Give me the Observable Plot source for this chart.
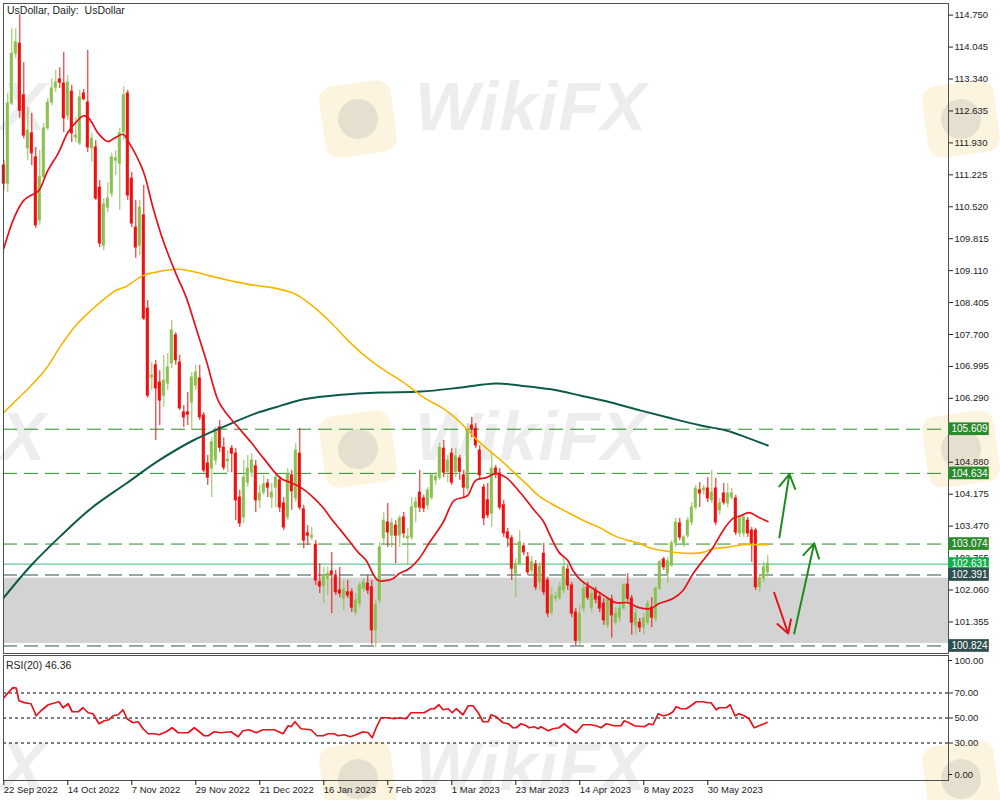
<!DOCTYPE html>
<html><head><meta charset="utf-8">
<script src="https://cdn.jsdelivr.net/npm/d3@7"></script>
<script src="https://cdn.jsdelivr.net/npm/@observablehq/plot@0.6"></script>
<style>
body{margin:0;background:#fff;font-family:"Liberation Sans",Arial,sans-serif;}
#wrap{position:relative;width:1000px;height:800px;overflow:hidden;background:#fff;}
#wrap svg{position:relative;display:block;}
.wm-t{position:absolute;font:italic bold 68px "Liberation Sans",Arial,sans-serif;color:rgba(200,200,200,0.32);letter-spacing:1px;white-space:nowrap;}
.wm-l{position:absolute;width:72px;height:72px;border-radius:14px;background:rgba(243,214,140,0.28);transform:rotate(-8deg);}
.wm-l::after{content:"";position:absolute;left:16px;top:16px;width:40px;height:40px;border-radius:50%;background:rgba(150,150,150,0.22);}
.lbl{position:absolute;font-size:10.5px;color:#222;white-space:pre;}
</style></head><body><div id="wrap"></div>
<script>
// ---- candle data (bar index 0 = 22 Sep 2022) ----
const opens=[111.43,111.03,112.80,113.90,114.12,112.98,111.81,112.14,111.61,110.22,111.17,112.25,112.82,113.15,113.33,113.24,112.53,113.06,112.05,111.92,113.02,112.82,111.81,111.83,110.94,109.66,110.50,110.81,111.54,111.47,112.16,113.02,111.14,110.06,109.66,110.33,108.27,106.75,107.02,106.64,106.35,106.62,107.06,107.68,107.08,105.98,105.98,106.20,106.57,106.73,105.91,104.85,104.74,104.92,105.65,105.20,104.90,105.18,105.07,104.10,103.66,104.43,104.65,104.79,104.04,104.21,104.41,104.10,104.32,104.48,103.97,103.66,104.59,104.08,105.07,103.84,103.31,103.22,103.06,102.23,102.14,102.31,102.47,102.38,102.05,101.87,102.01,102.01,101.56,101.76,102.09,102.20,102.12,101.17,101.83,103.20,103.55,103.26,103.48,103.26,103.66,103.20,103.22,103.88,104.21,104.08,103.93,104.10,104.48,104.54,105.18,104.67,105.07,104.67,104.96,104.59,104.30,105.69,105.62,105.14,104.32,104.04,103.75,104.74,104.63,103.93,103.33,103.20,102.42,102.64,103.02,102.78,102.49,102.62,102.23,102.86,102.27,101.56,101.87,101.89,102.05,102.51,102.16,101.56,100.94,101.65,102.12,101.67,102.05,101.91,101.76,101.28,101.85,101.34,101.45,101.65,102.18,101.87,101.28,101.34,101.23,101.34,101.67,101.43,102.09,102.73,102.42,102.60,103.09,103.53,103.09,103.26,103.55,103.88,104.26,104.26,104.30,104.04,104.30,103.82,104.19,103.97,104.10,104.08,103.31,103.31,103.59,103.37,103.37,102.12,102.31,102.45];
const highs=[111.54,113.02,114.45,114.45,114.76,113.70,112.71,112.58,111.83,111.76,112.36,112.91,113.35,113.53,113.59,113.93,113.42,113.20,112.49,113.09,113.11,113.97,112.14,111.98,111.10,110.70,111.05,111.70,111.76,112.25,113.17,113.09,111.28,110.66,110.66,110.99,108.45,107.08,107.13,106.90,107.24,107.28,108.01,107.74,107.24,106.13,106.42,106.86,107.02,107.02,105.98,105.03,105.42,105.65,105.80,105.42,105.14,105.25,105.18,104.26,104.92,105.03,105.07,104.92,104.37,104.59,104.50,104.41,104.65,104.56,104.10,104.74,104.70,105.29,105.62,103.93,103.48,103.44,103.15,102.64,102.56,102.56,102.89,102.49,102.56,102.27,102.27,102.09,101.98,102.23,102.31,102.38,102.27,101.83,103.11,103.77,103.97,103.64,103.59,103.70,103.77,103.42,104.10,104.10,104.70,104.15,104.32,104.63,104.65,105.31,105.36,105.03,105.18,105.18,105.03,104.70,105.73,105.87,105.73,105.25,104.39,104.41,105.07,104.81,104.74,104.04,103.42,103.26,102.75,103.37,103.09,102.89,102.80,102.71,102.67,103.09,102.34,102.12,102.01,102.23,102.78,102.60,102.23,101.65,101.72,102.23,102.23,102.09,102.12,102.01,101.87,101.89,101.94,101.67,101.76,102.20,102.42,101.94,101.65,101.43,101.54,101.83,101.89,102.12,102.71,102.78,102.78,103.15,103.64,103.64,103.26,103.66,103.99,104.37,104.43,104.37,104.54,104.70,104.52,104.08,104.41,104.41,104.30,104.15,103.71,103.71,103.66,103.44,103.42,102.38,102.67,102.82];
const lows=[110.88,110.83,112.75,113.79,112.47,112.02,111.54,111.43,110.04,110.11,111.10,112.20,112.75,113.04,113.13,112.16,112.42,111.94,111.94,111.87,112.87,111.72,111.50,110.66,109.62,109.55,110.39,110.72,111.21,110.44,111.98,110.66,110.06,109.38,109.44,108.01,106.29,106.46,105.36,105.69,106.09,106.46,106.95,107.02,106.02,105.65,105.69,105.58,106.46,105.80,104.65,104.37,104.10,104.81,105.10,104.70,104.65,104.65,103.59,103.44,103.53,104.32,104.54,103.77,103.86,104.15,104.10,103.86,103.88,103.77,103.37,103.59,103.82,103.99,103.82,102.97,103.04,103.15,102.16,101.98,101.76,101.94,101.54,101.94,101.89,101.61,101.87,101.56,101.50,101.67,102.01,101.96,100.85,100.79,101.76,103.04,103.00,103.00,102.64,103.00,103.20,102.60,103.15,103.55,103.77,103.77,103.82,104.04,104.37,104.48,104.54,104.43,104.37,104.54,104.48,104.10,104.21,105.42,105.18,104.52,103.48,103.64,103.44,104.52,103.82,103.22,103.00,102.27,101.89,102.60,102.82,102.38,102.38,102.05,102.05,101.94,101.45,101.50,101.80,101.83,101.98,102.05,101.45,100.83,100.79,101.56,101.83,101.56,101.76,101.56,101.28,101.21,101.00,101.28,101.34,101.61,101.80,101.06,101.06,101.12,101.06,101.28,101.23,101.34,102.05,102.49,102.20,102.56,103.00,103.15,103.00,103.20,103.48,103.82,103.88,104.15,103.99,103.97,103.48,103.71,103.93,103.88,104.04,103.26,103.22,103.22,103.22,102.67,102.05,102.01,102.23,102.34];
const closes=[111.03,112.80,113.90,114.15,112.64,112.09,112.20,111.70,110.11,111.17,112.25,112.82,113.13,113.26,113.26,112.47,113.26,112.14,112.09,112.93,112.89,111.83,112.02,110.70,109.71,110.57,110.70,111.61,111.59,112.14,112.98,110.77,110.15,109.62,110.50,108.05,106.35,106.79,106.51,106.24,106.68,106.97,107.79,107.13,106.07,105.87,105.93,106.75,106.86,105.87,104.70,104.54,105.32,105.54,105.20,104.76,104.94,105.07,104.04,103.53,104.54,104.74,104.92,104.04,104.19,104.39,104.32,104.21,104.54,103.88,103.44,104.61,104.24,105.14,103.88,103.15,103.26,103.26,102.27,102.14,102.36,102.42,102.40,102.01,101.98,102.07,101.94,101.67,101.83,102.16,102.23,102.05,101.17,101.72,103.00,103.59,103.33,103.53,103.26,103.64,103.31,103.24,103.88,103.99,103.88,103.86,104.26,104.59,104.56,105.20,104.65,104.92,104.43,105.01,104.67,104.32,105.58,105.62,105.25,104.59,103.64,103.71,104.74,104.63,103.88,103.31,103.20,102.53,102.64,103.11,102.89,102.45,102.67,102.12,102.58,102.01,101.54,101.94,101.91,102.12,102.56,102.16,101.54,100.94,101.54,102.09,101.89,101.96,101.85,101.65,101.39,101.85,101.50,101.54,101.65,102.16,101.87,101.34,101.54,101.23,101.43,101.76,101.45,102.09,102.67,102.56,102.69,103.09,103.55,103.22,103.22,103.59,103.88,104.30,104.19,104.30,104.08,104.21,103.55,103.97,103.99,104.19,104.19,103.33,103.64,103.66,103.31,103.09,102.12,102.31,102.56,102.64];

// ---- moving averages (bar index, value) ----
const redMaIdx=[0,2.6,5,7.6,8.8,11,13.6,16,18,20,21.3,23.6,26,27.6,29.8,31,34.8,37.3,39.8,43,45.6,48,50.6,53.6,55.6,58.8,61.8,65,69.3,71.8,74.3,76.8,79.8,81.8,84.3,86.8,88.6,90.6,92.3,93.6,97.3,98.8,101.3,103.8,106.3,109.8,112.6,114.8,116,118,120.6,123,125.6,129.3,132.6,134.8,136.8,138.8,141,142.3,144.3,146.8,150,153,156,158.8,161.8,163.8,167.3,169.8,172.3,174.8,177.3,179.8,182.3,184.3,186.3,188.8,191];
const redMaVal=[109.60,110.28,110.66,110.81,110.88,111.32,111.70,112.16,112.38,112.53,112.47,112.14,111.96,112.03,112.12,111.98,111.32,110.50,109.78,109.05,108.52,107.86,107.13,106.24,105.96,105.63,105.32,104.96,104.52,104.43,104.32,104.15,103.88,103.64,103.37,103.09,102.89,102.71,102.42,102.27,102.31,102.42,102.53,102.75,103.09,103.55,104.04,104.10,104.15,104.48,104.54,104.63,104.54,104.19,103.82,103.59,103.22,102.89,102.71,102.49,102.27,102.12,101.94,101.78,101.78,101.67,101.65,101.76,101.87,102.05,102.42,102.71,103.00,103.37,103.64,103.70,103.77,103.66,103.57];
const yellowMaIdx=[0,3,6.8,10.6,14.3,18,21.8,25.6,28,30.6,34.8,38.8,43.8,47.3,51.3,55.6,58.8,63,66.8,71.8,74.3,78,81.8,85.6,89.3,93,96.8,100.6,104.3,106.3,109.8,113,115.6,118,121.3,124.3,127.6,131,133.6,136.8,141,145,149.3,152.6,156.3,158.8,162.3,166.3,170.6,174.8,177.3,180.6,184.8,188.8,191];
const yellowMaVal=[105.98,106.24,106.57,106.95,107.46,107.90,108.23,108.52,108.67,108.76,109.00,109.09,109.14,109.09,109.00,108.91,108.85,108.78,108.74,108.63,108.52,108.27,107.96,107.61,107.30,107.04,106.82,106.60,106.35,106.24,106.07,105.85,105.63,105.40,105.14,104.92,104.65,104.37,104.15,103.97,103.77,103.59,103.42,103.26,103.15,103.09,102.97,102.91,102.87,102.89,102.97,103.00,103.06,103.06,103.06];
const tealMaIdx=[0,6.8,14.3,21.8,30.6,38.8,47.3,55.6,63,69.3,75,84.3,94.3,104.3,114.3,123,129.3,136.8,144.3,151.8,159.3,166.8,174.3,180.6,185.6,191];
const tealMaVal=[101.89,102.60,103.26,103.86,104.41,104.92,105.36,105.69,105.96,106.13,106.27,106.37,106.42,106.44,106.53,106.62,106.57,106.49,106.35,106.20,106.02,105.85,105.69,105.58,105.43,105.25];

// ---- RSI(20) ----
const rsiIdx=[0,1.1,2.3,3.1,3.8,5.1,6.8,8.1,9.3,11.1,13.8,14.8,16.1,17.1,18.6,19.8,21.1,22.3,23.8,25.1,26.3,27.3,28.6,29.8,30.8,32.3,33.6,34.8,36.1,37.6,38.8,40.6,42.1,43.6,46.1,47.6,48.6,50.1,51.1,52.6,54.3,56.8,58.6,59.8,61.3,63.1,64.8,67.6,69.8,71.1,71.8,72.8,74.3,76.8,78.3,79.8,81.1,82.6,83.6,85.1,86.6,88.1,89.8,91.1,92.1,93.1,94.3,96.1,97.6,98.8,100.6,101.8,105.1,106.8,107.6,108.8,109.8,111.1,112.1,113.1,114.8,116.1,117.3,118.6,119.8,121.1,121.8,123.1,124.8,126.1,127.3,128.1,129.3,130.6,131.3,132.6,133.6,134.3,136.1,137.3,138.8,140.1,141.3,143.1,144.8,146.8,148.1,149.3,150.6,152.6,154.3,155.1,156.3,157.6,160.1,161.3,162.3,163.6,164.8,166.1,167.3,168.1,169.3,170.6,171.8,173.1,174.8,176.1,176.8,178.1,178.8,180.6,181.6,182.8,183.8,185.1,186.3,187.6,188.8,190.1,190.8];
const rsiVal=[66.2,70.3,74.3,74,63.8,62.3,61.4,51.8,55.8,60.6,63,58.2,61.4,55,55,58.2,54.2,53.4,45.4,47.8,48.6,51.8,52.6,56.6,49.4,46.2,47,41.4,37.4,37.4,36.6,39,42.2,38.2,38.2,42.2,39.8,35.8,35.8,39,38.2,39,35,39.8,40.6,38.2,40.6,40.6,37.4,43.8,43,47,41.4,40.6,35.8,35.8,37.4,37.4,35.8,36.6,35,36.6,39,38.2,34.2,42.2,50.2,50.2,49.4,50.2,49.4,54.2,54.2,57.4,57.4,60.6,56.6,57.4,54.2,57.4,52.6,59.8,59.8,54.2,47,47,52.6,51,46.2,45.4,42.2,42.2,45.4,43.8,42.2,43,41.4,43,39.8,41.4,42.2,45.4,42.2,38.2,44.6,44.6,43.8,42.2,45.4,43.8,43.8,47.8,46.2,43.8,43,45.4,44.6,53.4,51.8,52.6,55,59,57.4,57.4,59.8,63,63,62.2,62.2,56.6,58.2,58.2,60.6,51.8,53.4,51.8,49.4,42.2,43.8,45.4,46.4];
const rsiLevels=[30,50,70];
const rsiMidTicks=[30,50,70];
const rsiTop=100, rsiBottom=0;

// ---- levels, zone, labels ----
const levelVals=[105.609,104.634,103.074,102.631,102.391,100.824];
const levelKinds=["res","res","res","price","sup","sup"];
const zoneTop=102.32, zoneBottom=100.88;
const priceTicks=[114.750,114.045,113.340,112.635,111.930,111.225,110.520,109.815,109.110,108.405,107.700,106.995,106.290,104.880,104.175,103.470,102.765,102.060,101.355];
const dateIdx=[0,16,32,48,64,80,96,112,128,144,160,176];
const dateLabels=["22 Sep 2022","14 Oct 2022","7 Nov 2022","29 Nov 2022","21 Dec 2022","16 Jan 2023","7 Feb 2023","1 Mar 2023","23 Mar 2023","14 Apr 2023","8 May 2023","30 May 2023"];
const arrowFromX=[193.9,197.6,192.6], arrowFromY=[103.22,101.10,102.00];
const arrowToX=[196.4,202.6,196.1], arrowToY=[104.62,103.09,101.10];
const arrowKinds=["up","up","down"];
const title="UsDollar, Daily:  UsDollar";
const rsiTitle="RSI(20) 46.36";

// ---- build tables ----
const candles=opens.map((o,i)=>({i,o,h:highs[i],l:lows[i],c:closes[i],up:closes[i]>=o}));
const pts=(ix,vs)=>ix.map((i,k)=>({i,v:vs[k]}));
const levels=levelVals.map((v,k)=>({v,kind:levelKinds[k]}));
const arrows=arrowFromX.map((x,k)=>({x1:x,y1:arrowFromY[k],x2:arrowToX[k],y2:arrowToY[k],kind:arrowKinds[k]}));
const GREEN="#8cc152", RED="#f01010";
const lineCol={res:"#2b8a2b",price:"#3cb878",sup:"#2f4f4f"};
const boxCol={res:"#2b8a2b",price:"#12b04a",sup:"#2f4f4f"};
const XD=[-0.075,236.175];
const fmt3=d3.format(".3f"), fmt2=d3.format(".2f");
const font='"Liberation Sans",Arial,sans-serif';

const wrap=document.getElementById("wrap");
// watermarks (behind)
[75,405,735].forEach(t=>{
  const a=document.createElement("div");a.className="wm-t";a.style.left="0px";a.style.top=(t-8)+"px";a.textContent="X";wrap.appendChild(a);
  const d=document.createElement("div");d.className="wm-t";d.style.left="415px";d.style.top=(t-8)+"px";d.textContent="WikiFX";wrap.appendChild(d);
  [322,925].forEach(l=>{const g=document.createElement("div");g.className="wm-l";g.style.left=l+"px";g.style.top=(t+8)+"px";wrap.appendChild(g);});
});

const main=Plot.plot({
  width:1000,height:654,marginLeft:3,marginRight:52,marginTop:3,marginBottom:1,
  style:{background:"transparent",fontFamily:font,fontSize:"9.5px",color:"#222",overflow:"visible"},
  x:{domain:XD,axis:null},
  y:{domain:[100.658,115.007],axis:null},
  marks:[
    Plot.rect([{t:zoneTop,b:zoneBottom}],{x1:()=>XD[0],x2:()=>XD[1],y1:"b",y2:"t",fill:"#d3d3d3"}),
    Plot.ruleY(levels.filter(d=>d.kind!=="price"),{y:"v",stroke:d=>lineCol[d.kind],strokeWidth:1,strokeDasharray:"14,7"}),
    Plot.ruleY(levels.filter(d=>d.kind==="price"),{y:"v",stroke:d=>lineCol[d.kind],strokeWidth:1}),
    Plot.ruleX(candles,{x:"i",y1:"l",y2:"h",stroke:d=>d.up?GREEN:RED,strokeWidth:1}),
    Plot.rect(candles,{x1:d=>d.i-0.38,x2:d=>d.i+0.38,y1:d=>Math.min(d.o,d.c),y2:d=>Math.max(d.o,d.c),fill:d=>d.up?GREEN:RED,insetTop:-0.5,insetBottom:-0.5}),
    Plot.line(pts(tealMaIdx,tealMaVal),{x:"i",y:"v",stroke:"#0e5a4a",strokeWidth:2,curve:"catmull-rom"}),
    Plot.line(pts(yellowMaIdx,yellowMaVal),{x:"i",y:"v",stroke:"#f7b500",strokeWidth:1.6,curve:"catmull-rom"}),
    Plot.line(pts(redMaIdx,redMaVal),{x:"i",y:"v",stroke:"#e8111a",strokeWidth:1.7,curve:"catmull-rom"}),
    Plot.arrow(arrows,{x1:"x1",y1:"y1",x2:"x2",y2:"y2",stroke:d=>d.kind==="up"?"#1e8c1e":"#e8141c",strokeWidth:2,headLength:12}),
    Plot.frame({stroke:"#505050"}),
    Plot.axisY(priceTicks,{anchor:"right",label:null,tickSize:4,tickPadding:2,tickFormat:fmt3,fontSize:9.5}),
    Plot.rect(levels,{x1:()=>XD[1],x2:()=>XD[1]+10.2,y1:d=>d.v-0.14,y2:d=>d.v+0.14,fill:d=>boxCol[d.kind]}),
    Plot.text(levels,{x:()=>XD[1],y:"v",text:d=>fmt3(d.v),dx:3,textAnchor:"start",fill:"white",fontSize:10})
  ]
});
wrap.appendChild(main);

const rsi=Plot.plot({
  width:1000,height:146,marginLeft:3,marginRight:52,marginTop:1,marginBottom:20,
  style:{background:"transparent",fontFamily:font,fontSize:"9.5px",color:"#222",overflow:"visible"},
  x:{domain:XD,axis:null},
  y:{domain:[0,100],axis:null},
  marks:[
    Plot.ruleY(rsiLevels,{stroke:"#000",strokeDasharray:"3,3",strokeWidth:1}),
    Plot.line(pts(rsiIdx,rsiVal),{x:"i",y:"v",stroke:"#e8111a",strokeWidth:1.7}),
    Plot.frame({stroke:"#505050"}),
    Plot.axisY(rsiMidTicks,{anchor:"right",label:null,tickSize:4,tickPadding:2,tickFormat:fmt2,fontSize:9.5}),
    Plot.text([rsiTop],{x:()=>XD[1],y:d=>d,text:d=>fmt2(d),dx:6,dy:5,textAnchor:"start",fontSize:9.5,fill:"#222"}),
    Plot.text([rsiBottom],{x:()=>XD[1],y:d=>d,text:d=>fmt2(d),dx:6,dy:-6,textAnchor:"start",fontSize:9.5,fill:"#222"}),
    Plot.ruleY([rsiTop],{x1:()=>XD[1],x2:()=>XD[1]+1,dy:5,stroke:"#222"}),
    Plot.ruleY([rsiBottom],{x1:()=>XD[1],x2:()=>XD[1]+1,dy:-6,stroke:"#222"}),
    Plot.axisX(dateIdx,{anchor:"bottom",label:null,tickSize:5,tickPadding:1,textAnchor:"start",tickFormat:d=>dateLabels[dateIdx.indexOf(d)],fontSize:9.5})
  ]
});
wrap.appendChild(rsi);

function lbl(text,l,t){const d=document.createElement("div");d.className="lbl";d.style.left=l+"px";d.style.top=t+"px";d.textContent=text;wrap.appendChild(d);}
lbl(title,7,4);
lbl(rsiTitle,6,659);
</script>
</body></html>
